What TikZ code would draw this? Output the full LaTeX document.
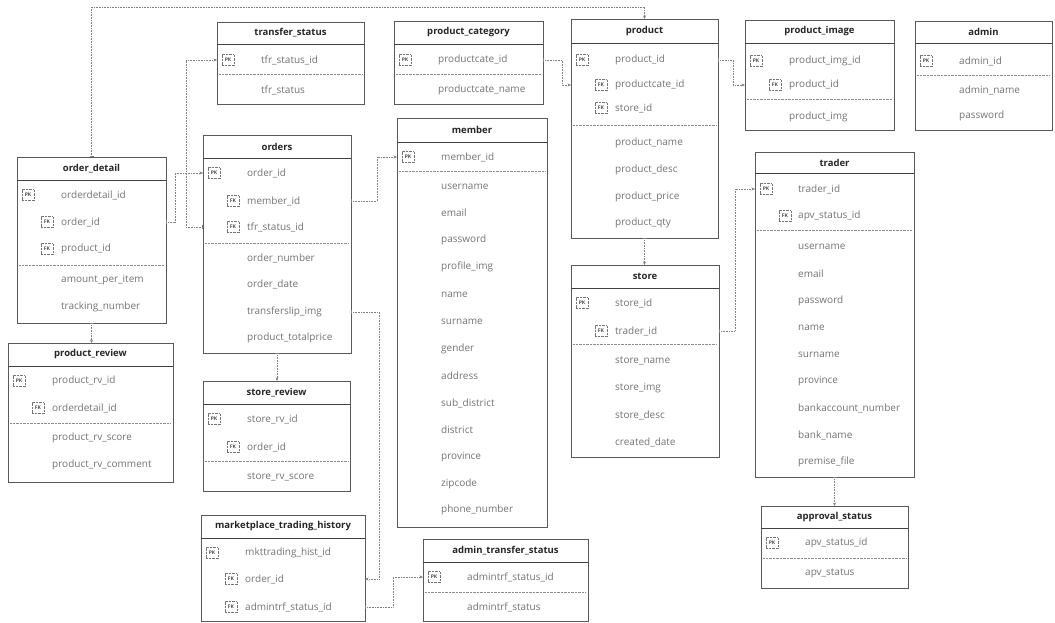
\documentclass[tikz,border=0pt]{standalone}
\usepackage{fontspec}
\setmainfont{Open Sans}
\usetikzlibrary{arrows.meta}

\begin{document}
\begin{tikzpicture}[x=1pt,y=-1pt]

\tikzset{entity/.style = {shape=rectangle,draw=black!65,line width=0.6pt,anchor=north west,inner sep=0pt,outer sep=0pt}}
\tikzset{etitle/.style = {font=\fontsize{9.5}{11}\selectfont\bfseries,text=black!85}}
\tikzset{attr/.style = {anchor=west,inner sep=0pt,font=\fontsize{10}{12}\selectfont,text=black!55}}
\tikzset{key/.style = {draw=black!55,densely dotted,minimum width=12pt,minimum height=11pt,inner sep=0pt,font=\fontsize{5}{5}\selectfont\bfseries,text=black!70}}
\tikzset{headline/.style = {draw=black!75,line width=0.8pt}}
\tikzset{keyline/.style = {draw=black!45,densely dotted}}
\tikzset{relation/.style = {draw=black!50,densely dotted,line width=0.6pt,{Bar[width=4pt]}-{Stealth[length=3.5pt,width=3pt]}}}

\useasboundingbox (0,0) rectangle (1055,622);

%transfer_status
\node[entity, minimum width=147pt, minimum height=82pt] (trs) at (217,22) {};
\draw[headline] (217,44) -- (364,44);
\node[etitle] at (290.5,33) {transfer\_status};
\node[key] at (228,60) {PK};
\draw[keyline] (219,74) -- (362,74);
\foreach \y/\fname [count=\i] in {60/tfr\_status\_id, 90/tfr\_status}
  \node[attr] (trs-\i) at (261,\y) {\fname};

%product_category
\node[entity, minimum width=149pt, minimum height=83pt] (pcat) at (394,21) {};
\draw[headline] (394,44) -- (543,44);
\node[etitle] at (468.5,32.5) {product\_category};
\node[key] at (405,60) {PK};
\draw[keyline] (396,74) -- (541,74);
\foreach \y/\fname [count=\i] in {60/productcate\_id, 90/productcate\_name}
  \node[attr] (pcat-\i) at (438,\y) {\fname};

%product
\node[entity, minimum width=147pt, minimum height=219pt] (prod) at (571,19) {};
\draw[headline] (571,43) -- (718,43);
\node[etitle] at (644.5,31) {product};
\node[key] at (582,60) {PK};
\node[key] at (601,85) {FK};
\node[key] at (601,108) {FK};
\draw[keyline] (573,125) -- (716,125);
\foreach \y/\fname [count=\i] in {60/product\_id, 85/productcate\_id, 108/store\_id,
    143/product\_name, 170/product\_desc, 197/product\_price, 223/product\_qty}
  \node[attr] (prod-\i) at (615,\y) {\fname};

%product_image
\node[entity, minimum width=149pt, minimum height=110pt] (pimg) at (745,20) {};
\draw[headline] (745,43) -- (894,43);
\node[etitle] at (819.5,31.5) {product\_image};
\node[key] at (756,61) {PK};
\node[key] at (775,85) {FK};
\draw[keyline] (747,99) -- (892,99);
\foreach \y/\fname [count=\i] in {61/product\_img\_id, 85/product\_id, 117/product\_img}
  \node[attr] (pimg-\i) at (789,\y) {\fname};

%admin
\node[entity, minimum width=137pt, minimum height=109pt] (adm) at (915,21) {};
\draw[headline] (915,43) -- (1052,43);
\node[etitle] at (983.5,32) {admin};
\node[key] at (926,61) {PK};
\draw[keyline] (917,75) -- (1050,75);
\foreach \y/\fname [count=\i] in {61/admin\_id, 90/admin\_name, 116/password}
  \node[attr] (adm-\i) at (959,\y) {\fname};

%order_detail
\node[entity, minimum width=149pt, minimum height=166pt] (odet) at (17,157) {};
\draw[headline] (17,180) -- (166,180);
\node[etitle] at (91.5,168.5) {order\_detail};
\node[key] at (28,195) {PK};
\node[key] at (47,222) {FK};
\node[key] at (47,249) {FK};
\draw[keyline] (19,265) -- (164,265);
\foreach \y/\fname [count=\i] in {195/orderdetail\_id, 222/order\_id, 249/product\_id,
    280/amount\_per\_item, 307/tracking\_number}
  \node[attr] (odet-\i) at (61,\y) {\fname};

%orders
\node[entity, minimum width=148pt, minimum height=218pt] (ord) at (203,135) {};
\draw[headline] (203,158) -- (351,158);
\node[etitle] at (277,146.5) {orders};
\node[key] at (214,173) {PK};
\node[key] at (233,201) {FK};
\node[key] at (233,227) {FK};
\draw[keyline] (205,243) -- (349,243);
\foreach \y/\fname [count=\i] in {173/order\_id, 201/member\_id, 227/tfr\_status\_id,
    258/order\_number, 284/order\_date, 312/transferslip\_img, 338/product\_totalprice}
  \node[attr] (ord-\i) at (247,\y) {\fname};

%product_review
\node[entity, minimum width=165pt, minimum height=139pt] (prev) at (8,343) {};
\draw[headline] (8,366) -- (173,366);
\node[etitle] at (90.5,354.5) {product\_review};
\node[key] at (19,381) {PK};
\node[key] at (38,408) {FK};
\draw[keyline] (10,423) -- (171,423);
\foreach \y/\fname [count=\i] in {381/product\_rv\_id, 408/orderdetail\_id,
    438/product\_rv\_score, 465/product\_rv\_comment}
  \node[attr] (prev-\i) at (52,\y) {\fname};

%store_review
\node[entity, minimum width=147pt, minimum height=110pt] (srev) at (203,381) {};
\draw[headline] (203,404) -- (350,404);
\node[etitle] at (276.5,392.5) {store\_review};
\node[key] at (214,419) {PK};
\node[key] at (233,447) {FK};
\draw[keyline] (205,461) -- (348,461);
\foreach \y/\fname [count=\i] in {419/store\_rv\_id, 447/order\_id, 477/store\_rv\_score}
  \node[attr] (srev-\i) at (247,\y) {\fname};

%member
\node[entity, minimum width=150pt, minimum height=409pt] (mem) at (397,118) {};
\draw[headline] (397,142) -- (547,142);
\node[etitle] at (472,130) {member};
\node[key] at (408,157) {PK};
\draw[keyline] (399,171) -- (545,171);
\foreach \y/\fname [count=\i] in {157/member\_id, 187/username, 213/email, 240/password,
    267/profile\_img, 295/name, 322/surname, 349/gender, 376/address, 403/sub\_district,
    430/district, 457/province, 484/zipcode, 510/phone\_number}
  \node[attr] (mem-\i) at (441,\y) {\fname};

%store
\node[entity, minimum width=148pt, minimum height=192pt] (sto) at (571,265) {};
\draw[headline] (571,288) -- (719,288);
\node[etitle] at (645,276.5) {store};
\node[key] at (582,303) {PK};
\node[key] at (601,331) {FK};
\draw[keyline] (573,344) -- (717,344);
\foreach \y/\fname [count=\i] in {303/store\_id, 331/trader\_id, 361/store\_name,
    388/store\_img, 415/store\_desc, 442/created\_date}
  \node[attr] (sto-\i) at (615,\y) {\fname};

%trader
\node[entity, minimum width=159pt, minimum height=325pt] (trd) at (755,152) {};
\draw[headline] (755,173) -- (914,173);
\node[etitle] at (834.5,162.5) {trader};
\node[key] at (766,189) {PK};
\node[key] at (785,216) {FK};
\draw[keyline] (757,230) -- (912,230);
\foreach \y/\fname [count=\i] in {189/trader\_id, 216/apv\_status\_id, 247/username,
    274/email, 301/password, 328/name, 355/surname, 381/province,
    408/bankaccount\_number, 435/bank\_name, 462/premise\_file}
  \node[attr] (trd-\i) at (798,\y) {\fname};

%approval_status
\node[entity, minimum width=147pt, minimum height=82pt] (apv) at (761,506) {};
\draw[headline] (761,528) -- (908,528);
\node[etitle] at (834.5,517) {approval\_status};
\node[key] at (772,543) {PK};
\draw[keyline] (763,558) -- (906,558);
\foreach \y/\fname [count=\i] in {543/apv\_status\_id, 573/apv\_status}
  \node[attr] (apv-\i) at (805,\y) {\fname};

%marketplace_trading_history
\node[entity, minimum width=164pt, minimum height=106pt] (mth) at (201,515) {};
\draw[headline] (201,538) -- (365,538);
\node[etitle] at (283,526.5) {marketplace\_trading\_history};
\node[key] at (212,553) {PK};
\node[key] at (231,579) {FK};
\node[key] at (231,607) {FK};
\foreach \y/\fname [count=\i] in {553/mkttrading\_hist\_id, 579/order\_id, 607/admintrf\_status\_id}
  \node[attr] (mth-\i) at (245,\y) {\fname};

%admin_transfer_status
\node[entity, minimum width=165pt, minimum height=82pt] (ats) at (423,539) {};
\draw[headline] (423,562) -- (588,562);
\node[etitle] at (505.5,550.5) {admin\_transfer\_status};
\node[key] at (434,577) {PK};
\draw[keyline] (425,592) -- (586,592);
\foreach \y/\fname [count=\i] in {577/admintrf\_status\_id, 607/admintrf\_status}
  \node[attr] (ats-\i) at (467,\y) {\fname};

%relations
\coordinate (topway) at (0,7);
\draw[relation] (odet.north) -- (odet.north |- topway) -| (prod.north);
\draw[relation] (ord.west |- ord-3) -- ++(-17,0) |- (trs.west |- trs-1);
\draw[relation] (odet.east |- odet-2) -- ++(9,0) |- (ord.west |- ord-1);
\draw[relation] (ord.east |- ord-2) -- ++(26,0) |- (mem.west |- mem-1);
\draw[relation] (ord.east |- ord-6) -- ++(28,0) |- (mth.east |- mth-2);
\draw[relation] (mth.east |- mth-3) -- ++(28,0) |- (ats.west |- ats-1);
\draw[relation] (pcat.east |- pcat-1) -- ++(19,0) |- (prod.west |- prod-2);
\draw[relation] (prod.east |- prod-1) -- ++(15,0) |- (pimg.west |- pimg-2);
\draw[relation] (prod.south) -- (prod.south |- sto.north);
\draw[relation] (sto.east |- sto-2) -- ++(16,0) |- (trd.west |- trd-1);
\draw[relation] (trd.south) -- (trd.south |- apv.north);
\draw[relation] (odet.south) -- (odet.south |- prev.north);
\draw[relation] (ord.south) -- (ord.south |- srev.north);

\end{tikzpicture}
\end{document}
